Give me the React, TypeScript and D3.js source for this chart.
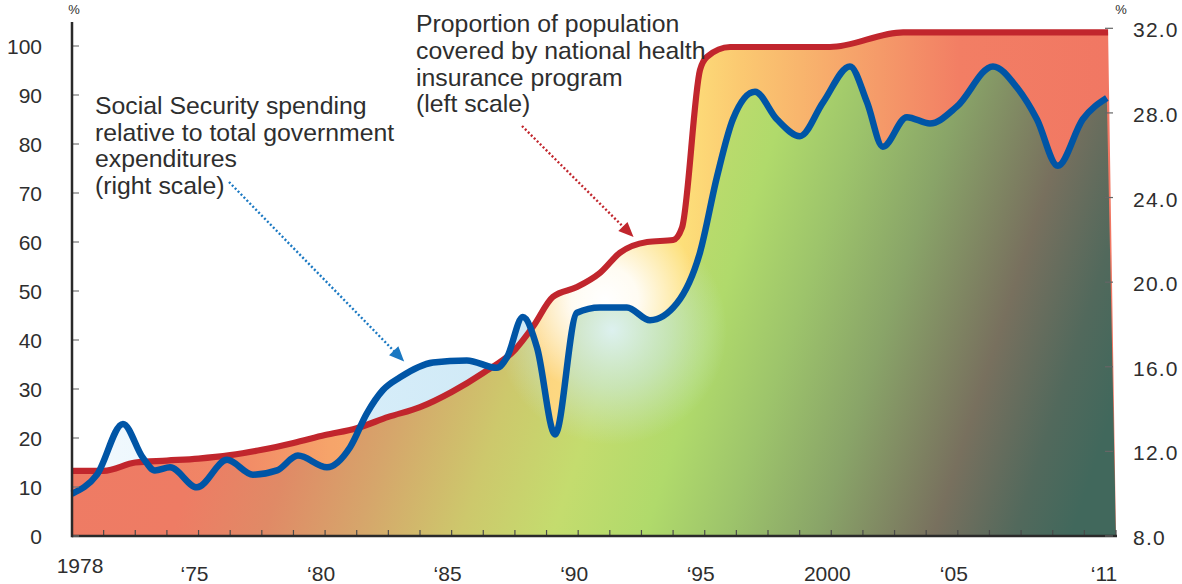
import React from 'react';
import * as d3 from 'd3';

// Horizontal positions are tick indices along the bottom axis (one tick per period).
const tickCount = 33;
const xTickIndex = [0, 4, 8, 12, 16, 20, 24, 28, 33];
const xTickLabels = ['1978', '‘75', '‘80', '‘85', '‘90', '‘95', '2000', '‘05', '‘11'];

const leftTicks = [0, 10, 20, 30, 40, 50, 60, 70, 80, 90, 100];
const rightTicks = [8, 12, 16, 20, 24, 28, 32];
const rightTickLabels = ['8.0', '12.0', '16.0', '20.0', '24.0', '28.0', '32.0'];

// Proportion of population covered by national health insurance program (%, left scale)
const coverageT = [0, 1, 2, 3, 4, 5, 6, 7, 8, 9, 10, 11, 12, 13, 14, 14.57, 15.2, 15.96, 16.69, 17.32, 18.18, 19.0, 19.28, 19.85, 20.07, 20.8, 23.96, 26.27, 32.75];
const coverageV = [13.3, 13.3, 15.0, 15.4, 15.8, 16.5, 17.6, 19.0, 20.6, 22.0, 24.3, 26.3, 29.4, 33.3, 38.0, 42.7, 48.8, 50.8, 53.7, 57.8, 60.0, 60.4, 62.9, 95.1, 97.8, 99.8, 99.8, 102.8, 102.8];

// Social Security spending relative to total government expenditures (%, right scale)
const spendingT = [0, 0.79, 1.61, 2.24, 2.62, 3.1, 3.95, 4.9, 5.72, 6.48, 7.14, 8.06, 8.79, 9.32, 9.83, 10.37, 11.41, 12.48, 13.43, 13.75, 14.25, 14.7, 15.27, 15.96, 16.69, 17.54, 18.27, 19.12, 19.85, 20.39, 20.89, 21.59, 22.28, 23.01, 23.74, 24.59, 25.13, 25.63, 26.39, 27.12, 27.97, 29.11, 29.87, 30.5, 31.16, 31.95, 32.71];
const spendingV = [10.0, 10.9, 13.3, 11.7, 11.1, 11.25, 10.3, 11.6, 10.9, 11.1, 11.8, 11.25, 12.2, 13.8, 14.9, 15.5, 16.2, 16.3, 15.95, 16.45, 18.35, 16.9, 12.8, 18.55, 18.8, 18.8, 18.2, 19.0, 21.4, 25.0, 27.7, 29.0, 27.7, 26.9, 28.5, 30.2, 28.5, 26.4, 27.8, 27.5, 28.3, 30.2, 29.2, 27.7, 25.5, 27.7, 28.7];

const W = 1182;
const H = 584;
const FONT = '"Liberation Sans", Arial, Helvetica, sans-serif';
const TEXT = '#2e2e2e';

const x = d3.scaleLinear().domain([0, tickCount]).range([72, 1116]);
const yL = d3.scaleLinear().domain([0, 100]).range([536, 46]);
const yR = d3.scaleLinear().domain([8, 32]).range([536, 28.3]);

type P = [number, number];
const coverage: P[] = coverageT.map((t, i) => [t, coverageV[i]]);
const spending: P[] = spendingT.map((t, i) => [t, spendingV[i]]);

const redLine = d3.line<P>().x(d => x(d[0])).y(d => yL(d[1])).curve(d3.curveMonotoneX);
const blueLine = d3.line<P>().x(d => x(d[0])).y(d => yR(d[1])).curve(d3.curveMonotoneX);

const closeToBase = (p: string) => `${p}L${x(tickCount)},${yL(0)}L${x(0)},${yL(0)}Z`;

const redPath = redLine(coverage) as string;
const bluePath = blueLine(spending) as string;
const redArea = closeToBase(redPath);
const blueArea = closeToBase(bluePath);

const stopsAt = (pairs: [number, string][]) =>
  pairs.map(([px, c], i) => <stop key={i} offset={(px - 72) / 1044} stopColor={c} />);

function arrowHead(x1: number, y1: number, x2: number, y2: number, len: number, half: number) {
  const a = Math.atan2(y2 - y1, x2 - x1);
  const bx = x2 - len * Math.cos(a);
  const by = y2 - len * Math.sin(a);
  const nx = -Math.sin(a) * half;
  const ny = Math.cos(a) * half;
  return `M${x2},${y2}L${bx + nx},${by + ny}L${bx - nx},${by - ny}Z`;
}

export default function App() {
  // annotation pointers
  const blueTip: P = [x(10.5), yR(16.25)];
  const blueStart: P = [229, 182];
  const redTip: P = [x(17.75), yL(61)];
  const redStart: P = [522, 126];
  const shorten = (s: P, e: P, d: number): P => {
    const a = Math.atan2(e[1] - s[1], e[0] - s[0]);
    return [e[0] - d * Math.cos(a), e[1] - d * Math.sin(a)];
  };
  const blueEnd = shorten(blueStart, blueTip, 12);
  const redEnd = shorten(redStart, redTip, 12);

  return (
    <svg width={W} height={H} style={{ position: 'absolute', left: 0, top: 0, background: '#fff' }} fontFamily={FONT}>
      <defs>
        <linearGradient id="sky" gradientUnits="userSpaceOnUse" x1={72} y1={0} x2={1116} y2={0}>
          {stopsAt([[72, '#f2f9fe'], [200, '#eaf6fc'], [360, '#d6edf9'], [520, '#cfe9f6'], [1116, '#cfe9f6']])}
        </linearGradient>
        <linearGradient id="warm" gradientUnits="userSpaceOnUse" x1={72} y1={0} x2={1116} y2={0}>
          {stopsAt([
            [72, '#ef7a64'], [230, '#f18766'], [330, '#f6a46a'], [420, '#f8b46d'], [520, '#fcd07a'],
            [600, '#fee089'], [680, '#fde07a'], [740, '#fbc971'], [800, '#f8b56d'], [880, '#f59a69'],
            [960, '#f27e64'], [1116, '#f17763'],
          ])}
        </linearGradient>
        <linearGradient id="cool" gradientUnits="userSpaceOnUse" x1={72} y1={60} x2={1116} y2={400}>
          <stop offset={0} stopColor="#ef7a64" />
          <stop offset={0.22} stopColor="#ee7c64" />
          <stop offset={0.3} stopColor="#e08a66" />
          <stop offset={0.38} stopColor="#d6a56b" />
          <stop offset={0.47} stopColor="#cdc86c" />
          <stop offset={0.55} stopColor="#c4dc6e" />
          <stop offset={0.63} stopColor="#b0da6b" />
          <stop offset={0.7} stopColor="#9dc46b" />
          <stop offset={0.78} stopColor="#89a468" />
          <stop offset={0.88} stopColor="#78705e" />
          <stop offset={0.95} stopColor="#52695c" />
          <stop offset={1} stopColor="#41685c" />
        </linearGradient>
        <radialGradient id="glowWarm" gradientUnits="userSpaceOnUse" cx={605} cy={300} r={95}>
          <stop offset={0} stopColor="#ffffff" stopOpacity={1} />
          <stop offset={0.35} stopColor="#ffffff" stopOpacity={0.9} />
          <stop offset={1} stopColor="#ffffff" stopOpacity={0} />
        </radialGradient>
        <radialGradient id="glowCool" gradientUnits="userSpaceOnUse" cx={612} cy={330} r={115}>
          <stop offset={0} stopColor="#def2f6" stopOpacity={0.95} />
          <stop offset={0.5} stopColor="#d0ecee" stopOpacity={0.55} />
          <stop offset={1} stopColor="#d0ecee" stopOpacity={0} />
        </radialGradient>
        <clipPath id="clipRed">
          <path d={redArea} />
        </clipPath>
        <clipPath id="clipBlue">
          <path d={blueArea} />
        </clipPath>
      </defs>

      {/* spending above coverage shows as pale blue */}
      <path d={blueArea} fill="url(#sky)" />
      {/* coverage area */}
      <path d={redArea} fill="url(#warm)" />
      <g clipPath="url(#clipRed)">
        <circle cx={605} cy={300} r={95} fill="url(#glowWarm)" />
      </g>
      {/* overlap of both areas */}
      <path d={blueArea} fill="url(#cool)" clipPath="url(#clipRed)" />
      <g clipPath="url(#clipRed)">
        <g clipPath="url(#clipBlue)">
          <circle cx={612} cy={330} r={115} fill="url(#glowCool)" />
        </g>
      </g>

      {/* series lines */}
      <path d={redPath} fill="none" stroke="#c1262d" strokeWidth={6.2} strokeLinejoin="round" strokeLinecap="butt" />
      <path d={bluePath} fill="none" stroke="#0055a6" strokeWidth={6.5} strokeLinejoin="round" strokeLinecap="butt" />

      {/* bottom axis */}
      {d3.range(1, tickCount + 1).map(t => (
        <line key={t} x1={x(t)} x2={x(t)} y1={yL(0)} y2={yL(0) - 6} stroke="#4a4a4a" strokeWidth={1.2} />
      ))}
      <line x1={x(0)} x2={x(tickCount) + 1} y1={yL(0)} y2={yL(0)} stroke="#2a2a2a" strokeWidth={2.5} />
      {xTickIndex.map((t, i) => {
        const cx = Math.min(Math.max(x(t) - 4, 80), 1104);
        return (
          <text key={i} x={cx} y={i === 0 ? 573 : 581} textAnchor="middle" fontSize={21} fill={TEXT}>
            {xTickLabels[i]}
          </text>
        );
      })}

      {/* left axis */}
      {leftTicks.map(v => (
        <g key={v}>
          <line x1={x(0)} x2={x(0) + 7} y1={yL(v)} y2={yL(v)} stroke="#777" strokeWidth={1.2} />
          <text x={42} y={yL(v) + 7.5} textAnchor="end" fontSize={21} fill={TEXT}>{v}</text>
        </g>
      ))}
      <line x1={x(0)} x2={x(0)} y1={22} y2={yL(0) + 1.2} stroke="#2a2a2a" strokeWidth={2.5} />
      <text x={74} y={14} textAnchor="middle" fontSize={13} fill={TEXT}>%</text>

      {/* right axis */}
      {rightTicks.map((v, i) => (
        <g key={v}>
          <line x1={1105} x2={1113} y1={yR(v)} y2={yR(v)} stroke="#666" strokeWidth={1.2} />
          <text x={1133} y={yR(v) + 9} textAnchor="start" fontSize={21} letterSpacing={1.2} fill={TEXT}>{rightTickLabels[i]}</text>
        </g>
      ))}
      <text x={1121} y={14} textAnchor="middle" fontSize={13} fill={TEXT}>%</text>

      {/* annotations */}
      <text fontSize={24.8} fill={TEXT}>
        <tspan x={95} y={114}>Social Security spending</tspan>
        <tspan x={95} y={140.7}>relative to total government</tspan>
        <tspan x={95} y={167.4}>expenditures</tspan>
        <tspan x={95} y={194}>(right scale)</tspan>
      </text>
      <text fontSize={24.8} fill={TEXT}>
        <tspan x={416} y={32.3}>Proportion of population</tspan>
        <tspan x={416} y={59}>covered by national health</tspan>
        <tspan x={416} y={85.7}>insurance program</tspan>
        <tspan x={416} y={112.3}>(left scale)</tspan>
      </text>

      <line x1={blueStart[0]} y1={blueStart[1]} x2={blueEnd[0]} y2={blueEnd[1]} stroke="#1a78c2" strokeWidth={2.4} strokeDasharray="2 2.2" />
      <path d={arrowHead(blueStart[0], blueStart[1], blueTip[0], blueTip[1], 15, 6.5)} fill="#1a78c2" />
      <line x1={redStart[0]} y1={redStart[1]} x2={redEnd[0]} y2={redEnd[1]} stroke="#c1262d" strokeWidth={2.4} strokeDasharray="2 2.2" />
      <path d={arrowHead(redStart[0], redStart[1], redTip[0], redTip[1], 15, 6.5)} fill="#c1262d" />
    </svg>
  );
}
